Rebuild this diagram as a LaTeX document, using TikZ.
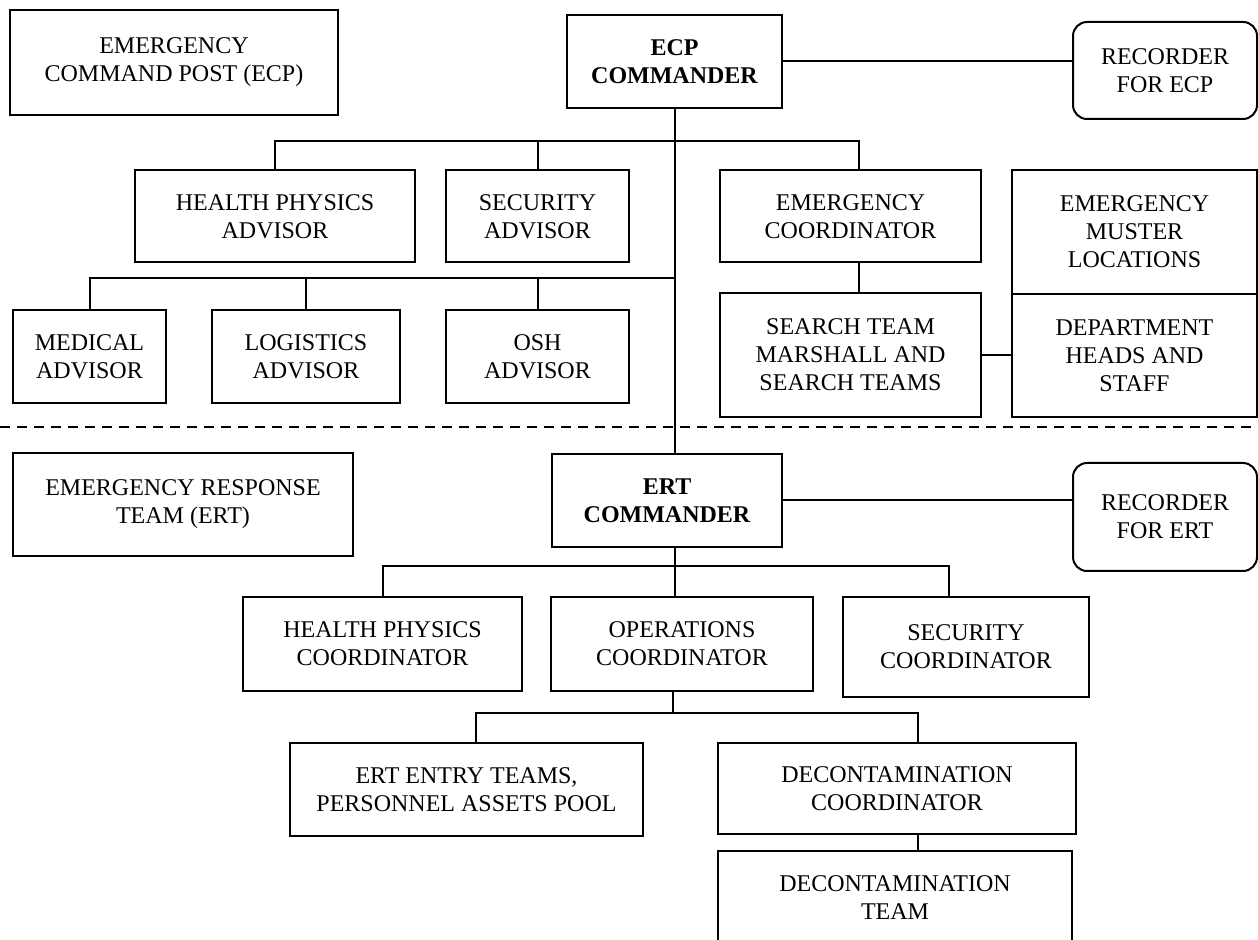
\documentclass[tikz,border=0pt]{standalone}
\usepackage{fontspec}
\setmainfont{Liberation Serif}

\tikzset{
  unit/.style={draw, line width=1pt, align=center, inner sep=0pt,
    font=\fontsize{12}{14}\selectfont},
  chief/.style={unit, font=\fontsize{12}{14}\selectfont\bfseries},
  rec/.style={unit, rounded corners=7pt},
  wh/.style 2 args={minimum width=#1*0.5pt, minimum height=#2*0.5pt},
  link/.style={line width=1pt},
  divider/.style={line width=1pt, dash pattern=on 5pt off 3.5pt}
}

\begin{document}
\begin{tikzpicture}[x=0.5pt, y=-0.5pt]
    \useasboundingbox (0,0) rectangle (1258,940);
    \clip (0,0) rectangle (1258,940);

    %% ECP level
    \node[unit, wh={328}{105}] (ecp) at (174,62.5) {EMERGENCY\\COMMAND POST (ECP)};
    \node[chief, wh={215}{93}] (ecpcmd) at (674.5,61.5) {ECP\\COMMANDER};
    \node[rec, wh={184}{97}] (rececp) at (1165,70.5) {RECORDER\\FOR ECP};

    \node[unit, wh={280}{92}] (hpadv) at (275,216.5) {HEALTH PHYSICS\\ADVISOR};
    \node[unit, wh={183}{92}] (secadv) at (537.5,216.5) {SECURITY\\ADVISOR};
    \node[unit, wh={261}{92}] (emcoord) at (850.5,216.5) {EMERGENCY\\COORDINATOR};
    \node[unit, wh={245}{124}] (muster) at (1134.5,232) {EMERGENCY\\MUSTER\\LOCATIONS};
    \node[unit, wh={245}{123}] (dept) at (1134.5,355.5) {DEPARTMENT\\HEADS AND\\STAFF};
    \node[unit, wh={261}{124}] (search) at (850.5,355) {SEARCH TEAM\\MARSHALL AND\\SEARCH TEAMS};

    \node[unit, wh={153}{93}] (medadv) at (89.5,356.5) {MEDICAL\\ADVISOR};
    \node[unit, wh={188}{93}] (logadv) at (306,356.5) {LOGISTICS\\ADVISOR};
    \node[unit, wh={183}{93}] (oshadv) at (537.5,356.5) {OSH\\ADVISOR};

    \draw[link] (ecpcmd.east) -- (ecpcmd.east -| rececp.west);
    \coordinate (b1) at (674.5,141);
    \coordinate (b2) at (674.5,278);
    \draw[link] (hpadv.north) |- (b1) -| ([xshift=4.25pt]emcoord.north);
    \draw[link] (secadv.north) -- (secadv.north |- b1);
    \draw[link] (medadv.north) |- (b2);
    \foreach \n in {logadv, oshadv}
      \draw[link] (\n.north) -- (\n.north |- b2);
    \draw[link] ([xshift=4.25pt]emcoord.south) -- ([xshift=4.25pt]search.north);
    \draw[link] (search.east) -- (search.east -| dept.west);

    %% split between ECP and ERT
    \draw[divider] (0,427) -- (1258,427);

    %% ERT level
    \node[unit, wh={340}{103}] (ert) at (183,504.5) {EMERGENCY RESPONSE\\TEAM (ERT)};
    \node[chief, wh={230}{93}] (ertcmd) at (667,500.5) {ERT\\COMMANDER};
    \node[rec, wh={184}{108}] (recert) at (1165,517) {RECORDER\\FOR ERT};

    \node[unit, wh={279}{94}] (hpcoord) at (382.5,644) {HEALTH PHYSICS\\COORDINATOR};
    \node[unit, wh={262}{94}] (opcoord) at (682,644) {OPERATIONS\\COORDINATOR};
    \node[unit, wh={246}{100}] (seccoord) at (966,647) {SECURITY\\COORDINATOR};

    \node[unit, wh={353}{93}] (entry) at (466.5,789.5) {ERT ENTRY TEAMS,\\PERSONNEL ASSETS POOL};
    \node[unit, wh={358}{91}] (deccoord) at (897,788.5) {DECONTAMINATION\\COORDINATOR};
    \node[unit, wh={354}{94}] (decteam) at (895,898) {DECONTAMINATION\\TEAM};

    \draw[link] (ecpcmd.south) -- (ecpcmd.south |- ertcmd.north);
    \draw[link] (ertcmd.east) -- (ertcmd.east -| recert.west);
    \coordinate (b3) at (674,566);
    \coordinate (b4) at (673,713);
    \draw[link] (ecpcmd.south |- ertcmd.south) -- (ecpcmd.south |- opcoord.north);
    \draw[link] (hpcoord.north) |- (b3) -| ([xshift=-8.5pt]seccoord.north);
    \draw[link] (b4 |- opcoord.south) -- (b4);
    \draw[link] ([xshift=4.75pt]entry.north) |- (b4) -| ([xshift=10.5pt]deccoord.north);
    \draw[link] ([xshift=10.5pt]deccoord.south) -- ([xshift=10.5pt]deccoord.south |- decteam.north);
\end{tikzpicture}
\end{document}
